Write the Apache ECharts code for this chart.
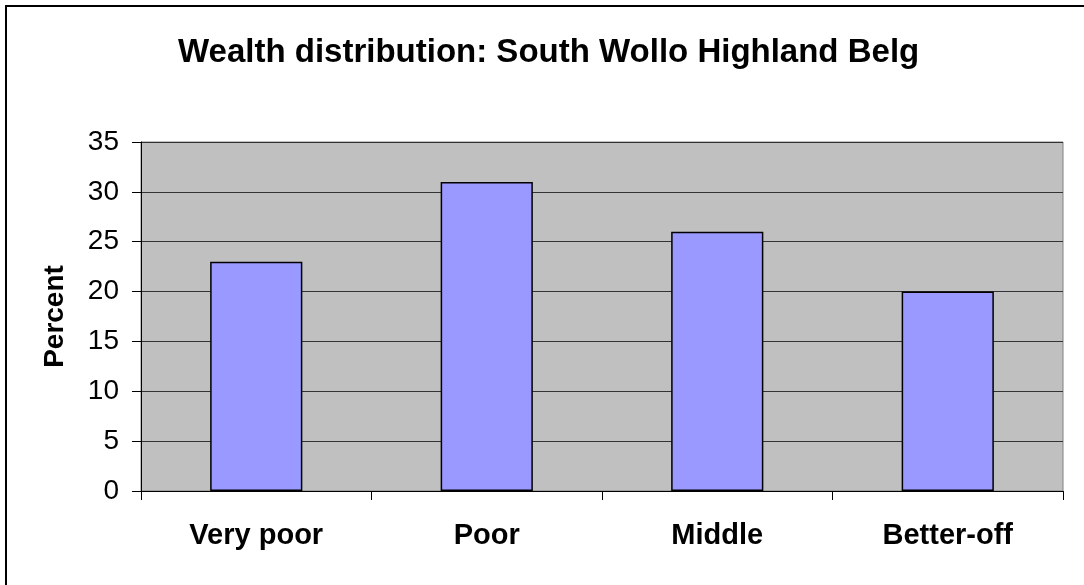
<!DOCTYPE html>
<html>
<head>
<meta charset="utf-8">
<script src="https://cdn.jsdelivr.net/npm/echarts@6/dist/echarts.min.js"></script>
<style>
  html, body { margin: 0; padding: 0; background: #ffffff; }
  #chart { width: 1084px; height: 585px; }
</style>
</head>
<body>
<div id="chart"></div>
<script>
// Wealth groups and their share of households (%)
const categories = ['Very poor', 'Poor', 'Middle', 'Better-off'];
const percentValues = [23, 31, 26, 20];
const yTicks = { min: 0, max: 35, interval: 5 };

const FONT = 'Arial, "Liberation Sans", sans-serif';

const chart = echarts.init(document.getElementById('chart'), null, { renderer: 'canvas' });

chart.setOption({
  backgroundColor: '#ffffff',
  animation: false,
  title: {
    text: 'Wealth distribution: South Wollo Highland Belg',
    left: 178,
    top: 36,
    padding: 0,
    textStyle: { fontFamily: FONT, fontSize: 33, fontWeight: 'bold', color: '#000' }
  },
  graphic: [{
    type: 'rect',
    shape: { x: 6, y: 6, width: 1200, height: 700 },
    style: { fill: 'none', stroke: '#000', lineWidth: 2 },
    silent: true,
    z: -1
  }],
  grid: {
    left: 141, top: 142, width: 922, height: 349,
    show: true,
    backgroundColor: '#C0C0C0',
    borderColor: '#808080',
    borderWidth: 1
  },
  xAxis: {
    type: 'category',
    data: categories,
    axisLine: { show: true, lineStyle: { color: '#000', width: 1 } },
    axisTick: { show: true, alignWithLabel: false, length: 9, lineStyle: { color: '#000' } },
    axisLabel: { margin: 30, fontFamily: FONT, fontSize: 29, fontWeight: 'bold', color: '#000' },
    splitLine: { show: false }
  },
  yAxis: {
    type: 'value',
    min: yTicks.min,
    max: yTicks.max,
    interval: yTicks.interval,
    name: 'Percent',
    nameLocation: 'middle',
    nameRotate: 90,
    nameGap: 72,
    nameTextStyle: { fontFamily: FONT, fontSize: 28, fontWeight: 'bold', color: '#000' },
    axisLine: { show: true, lineStyle: { color: '#000', width: 1 } },
    axisTick: { show: true, length: 9, lineStyle: { color: '#000' } },
    axisLabel: { margin: 22, fontFamily: FONT, fontSize: 28, color: '#000' },
    splitLine: { show: true, lineStyle: { color: '#333', width: 1 } }
  },
  series: [{
    type: 'bar',
    data: percentValues,
    barWidth: '40%',
    itemStyle: { color: '#9999FF', borderColor: '#000', borderWidth: 1.5 }
  }]
});
</script>
</body>
</html>
